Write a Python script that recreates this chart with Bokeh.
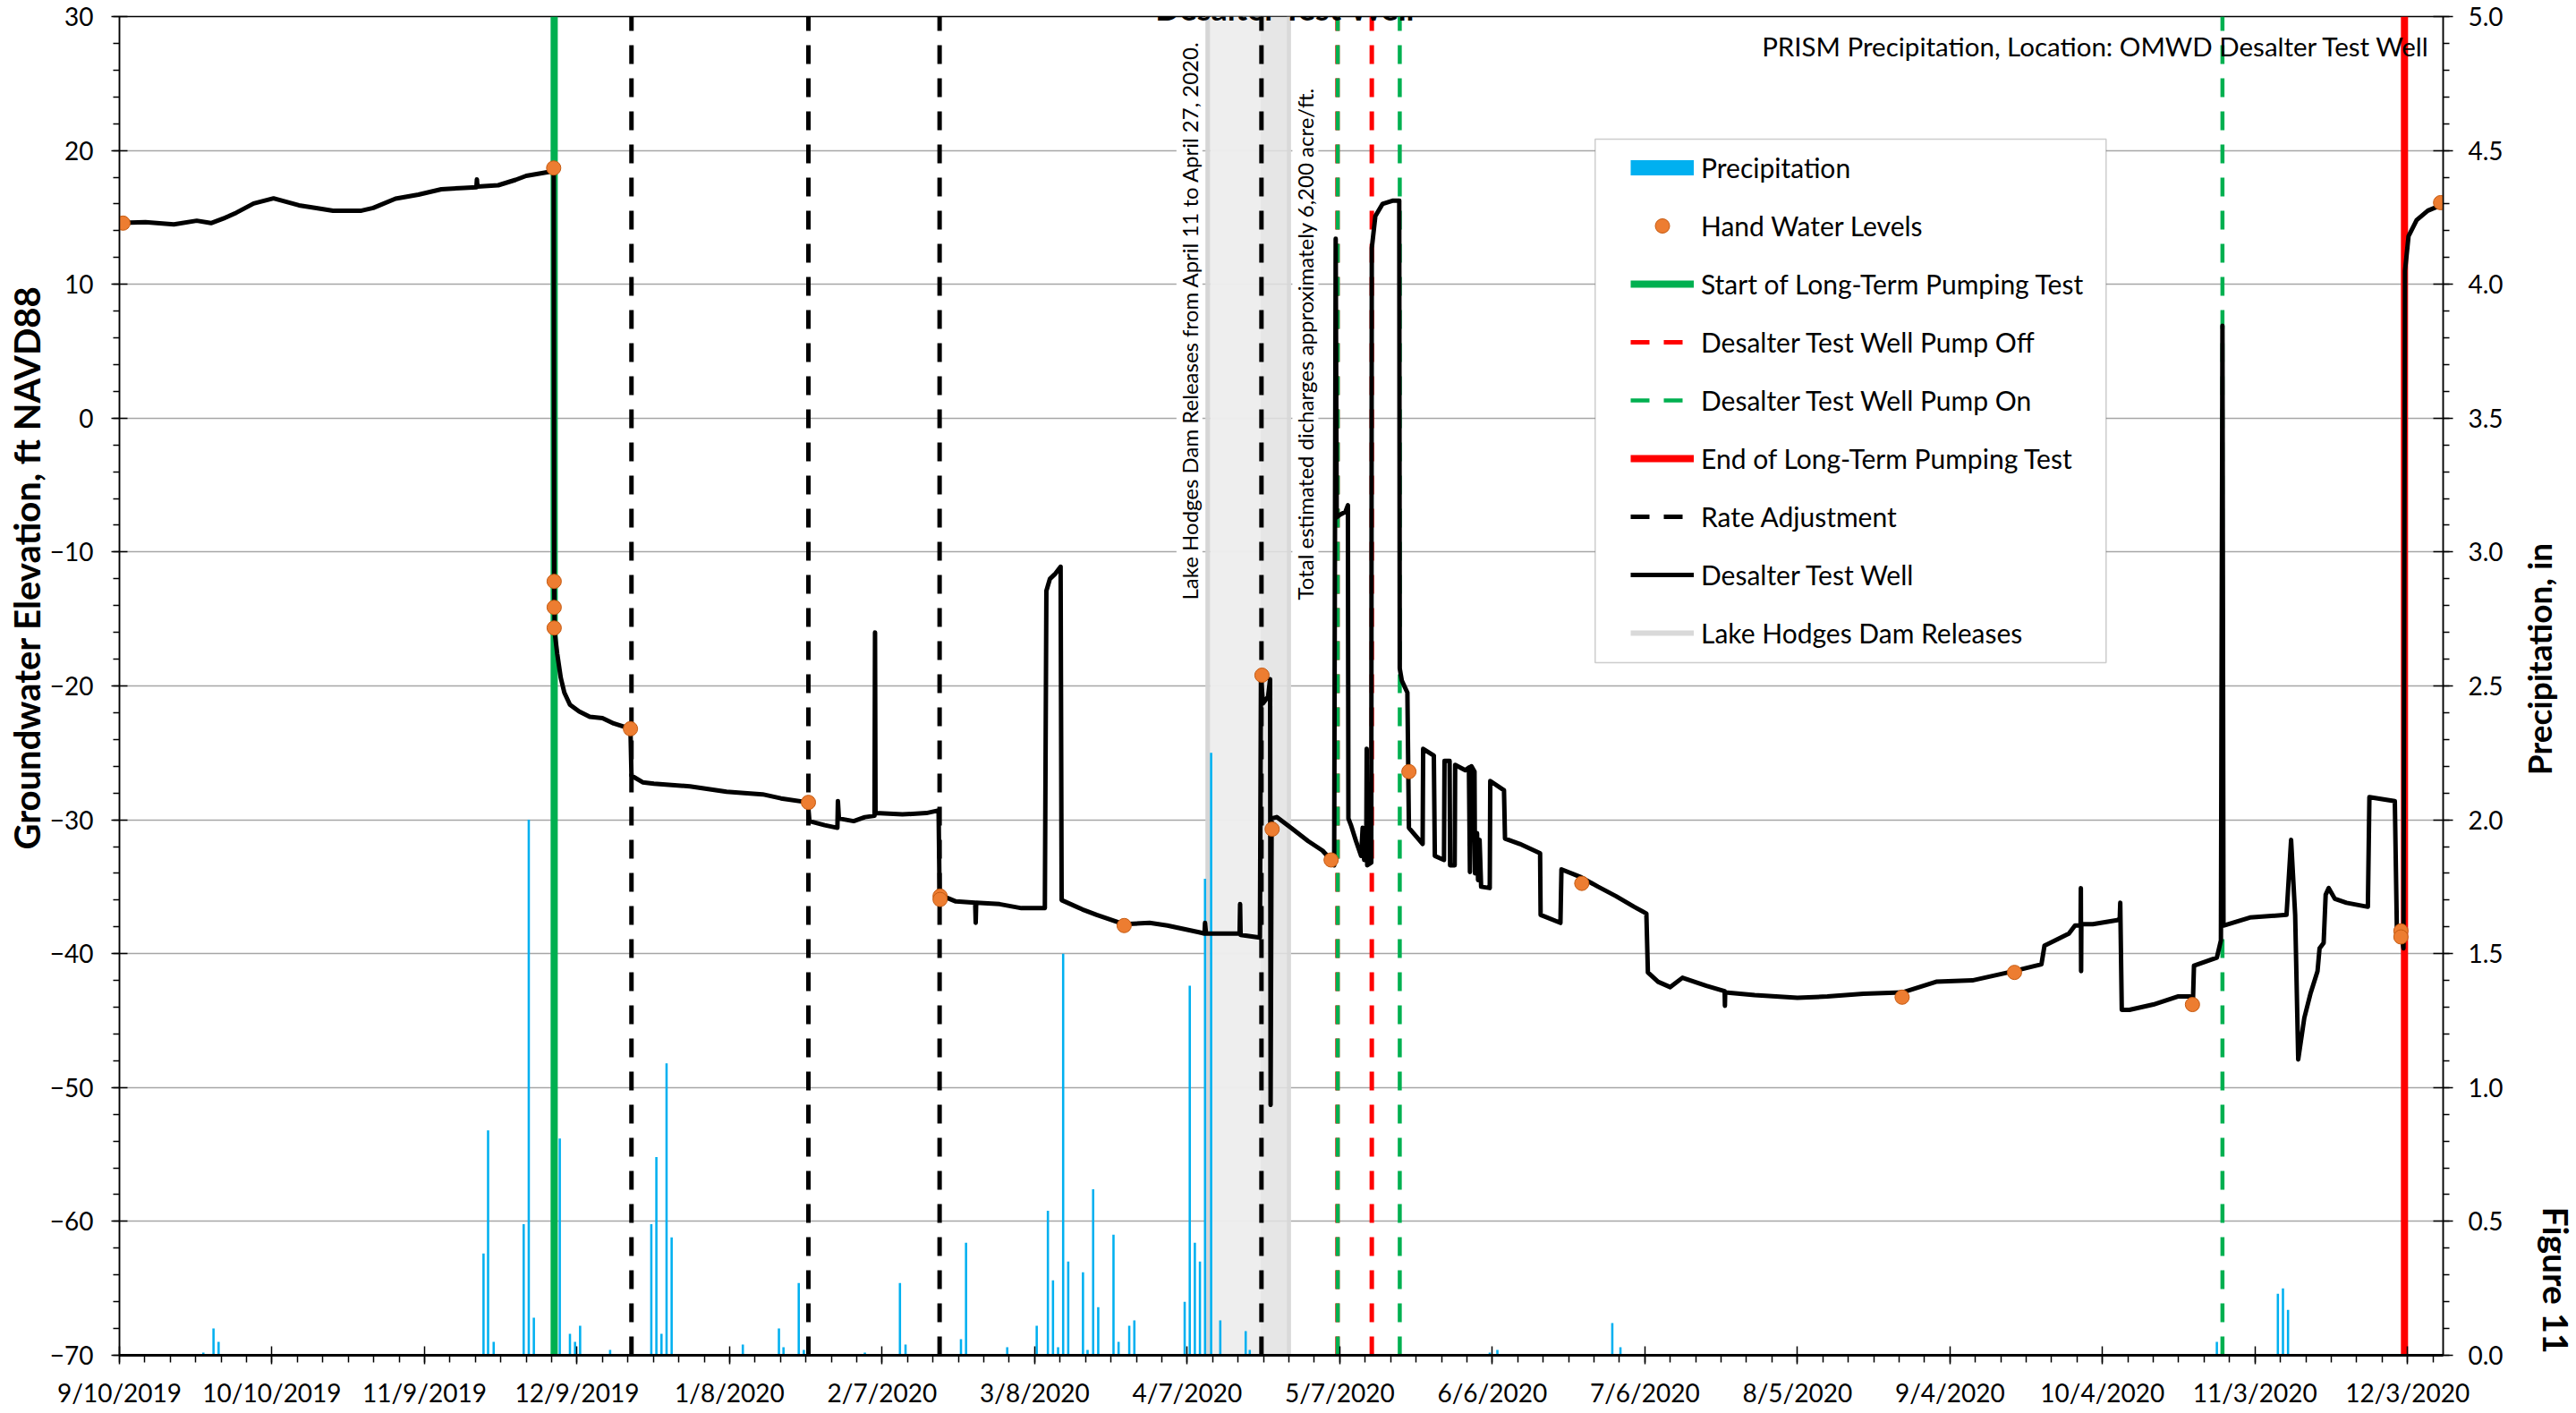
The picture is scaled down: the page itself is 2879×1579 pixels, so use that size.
import math
import numpy as np
import pandas as pd
from bokeh.plotting import figure
from bokeh.layouts import row
from bokeh.models import (Range1d, LinearAxis, FixedTicker, CustomJSTickFormatter,
                          NumeralTickFormatter, Label, Legend, LegendItem, BoxAnnotation)
from bokeh.embed import file_html
from bokeh.resources import INLINE

# ---------------- data ----------------
START = "2019-09-10"          # day 0 of all "days" arrays below
X_END_DAYS = 457              # axis end (12/10/2020)

date_ticks = ["2019-09-10", "2019-10-10", "2019-11-09", "2019-12-09", "2020-01-08",
              "2020-02-07", "2020-03-08", "2020-04-07", "2020-05-07", "2020-06-06",
              "2020-07-06", "2020-08-05", "2020-09-04", "2020-10-04", "2020-11-03",
              "2020-12-03"]
elev_ticks = [-70, -60, -50, -40, -30, -20, -10, 0, 10, 20, 30]
precip_ticks = [0.0, 0.5, 1.0, 1.5, 2.0, 2.5, 3.0, 3.5, 4.0, 4.5, 5.0]

# Desalter Test Well transducer record (days since START, ft NAVD88)
well_days = [0.7, 5.1, 10.7, 15.2, 18.0, 20.8, 23.0, 26.4, 30.3, 35.3, 38.7, 42.0, 47.6, 49.9,
             54.3, 58.8, 63.3, 67.8, 70.2, 70.3, 70.4, 74.5, 77.9, 80.0, 84.6, 85.4,
             85.5, 85.6, 86.1, 86.8, 87.5, 88.6, 90.4, 92.5, 95.0, 97.2, 100.5,
             100.7, 102.9, 105.1, 108.6, 112.2, 115.8, 119.4, 122.9, 126.5, 130.1, 135.4,
             135.7, 138.7, 141.2, 141.3, 141.5, 144.4, 146.6, 148.5, 148.6, 148.7, 154.0,
             158.7, 161.1, 161.3, 164.5, 168.3, 168.4, 168.5, 173.1, 177.4, 182.0,
             182.3, 183.0, 184.1, 185.1, 185.3, 189.4, 192.2, 197.6, 202.6, 206.1, 212.3,
             213.4, 213.5, 213.7, 220.3, 220.4, 220.5, 224.3, 224.5, 224.9, 225.9, 226.3,
             226.4, 226.6, 227.6, 230.4, 233.8, 236.6, 238.3, 238.9, 239.2, 239.4, 240.1,
             241.1, 241.6, 241.7, 242.2, 243.2, 244.2, 244.5, 244.8, 245.2, 245.3, 245.4,
             246.2, 246.3, 247.0, 248.4, 250.5, 251.7, 251.8, 252.2, 253.3, 253.6,
             256.3, 256.4, 258.5, 258.7, 260.5, 260.6, 261.6, 261.7, 262.6, 262.7, 264.7,
             265.4, 265.6, 265.9, 266.5, 266.6, 267.0, 267.2, 267.5, 267.8, 269.5, 269.6,
             272.3, 272.5, 275.4, 279.4, 279.5, 283.4, 283.6, 287.5, 290.8, 294.3, 297.9,
             300.3, 300.6, 302.6, 305.0, 307.4, 312.1, 315.7, 315.75, 315.8, 321.6, 330.0,
             335.9, 343.0, 350.6, 357.3, 364.4, 371.5, 378.0, 378.6, 383.4, 384.6, 385.7,
             385.75, 385.8, 385.85, 388.1, 392.9, 393.4, 393.5, 393.8, 395.3, 400.0, 404.8,
             407.2, 407.8, 408.0, 412.5, 413.3, 413.6, 413.8, 419.0, 426.2, 427.1, 427.9,
             428.5, 429.7, 430.9, 432.3, 432.7, 433.5, 433.9, 434.5, 435.7, 438.0, 442.2,
             442.5, 447.5, 447.9, 448.9, 449.2, 449.5, 450.2, 451.8, 454.0, 456.5]
well_level = [14.6, 14.64, 14.48, 14.75, 14.57, 14.97, 15.35, 16.04, 16.42, 15.9, 15.7, 15.5, 15.5, 15.7,
              16.4, 16.7, 17.1, 17.2, 17.25, 17.84, 17.3, 17.4, 17.8, 18.1, 18.4, 18.6,
              -12.2, -16.0, -17.6, -19.4, -20.5, -21.4, -21.9, -22.3, -22.4, -22.8, -23.2,
              -26.7, -27.2, -27.3, -27.4, -27.5, -27.7, -27.9, -28.0, -28.1, -28.4, -28.7,
              -30.1, -30.4, -30.6, -28.6, -29.9, -30.1, -29.8, -29.7, -16.0, -29.5, -29.6,
              -29.5, -29.3, -35.6, -36.1, -36.2, -37.7, -36.2, -36.3, -36.6, -36.6,
              -12.9, -12.0, -11.6, -11.1, -36.0, -36.7, -37.1, -37.8, -37.7, -37.9, -38.4,
              -38.5, -37.7, -38.5, -38.5, -36.3, -38.6, -38.8, -19.3, -21.3, -20.8, -19.5,
              -51.3, -29.9, -29.8, -30.6, -31.6, -32.3, -33.0, -33.4, 13.4, -7.4, -7.2,
              -7.0, -6.5, -29.9, -30.4, -31.6, -32.7, -30.6, -33.0, -33.0, -24.7, -33.4,
              -33.2, 12.7, 15.1, 16.0, 16.25, 16.25, -18.7, -19.6, -20.5, -30.6,
              -31.8, -24.7, -25.2, -32.7, -33.0, -25.6, -25.6, -33.4, -33.4, -25.9, -26.3,
              -26.1, -33.9, -26.0, -26.4, -34.0, -31.0, -34.5, -31.5, -35.0, -35.1, -27.1,
              -27.8, -31.4, -31.8, -32.5, -37.1, -37.7, -33.7, -34.3, -35.0, -35.7, -36.5,
              -37.0, -41.4, -42.1, -42.5, -41.8, -42.4, -42.8, -43.9, -42.9, -43.1, -43.3,
              -43.2, -43.0, -42.9, -42.1, -42.0, -41.4, -40.8, -39.4, -38.5, -37.9, -37.9,
              -35.1, -41.3, -37.8, -37.8, -37.5, -37.4, -36.2, -44.2, -44.2, -43.8, -43.2,
              -43.2, -43.5, -40.9, -40.3, -39.0, 6.9, -37.9, -37.3, -37.1, -31.5, -37.1,
              -47.9, -44.8, -43.0, -41.3, -39.6, -39.2, -35.6, -35.1, -35.9, -36.2, -36.5,
              -28.3, -28.6, -38.1, -38.8, -39.6, 11.0, 13.6, 14.8, 15.5, 15.9]

# Hand water levels
hand_days = [0.7, 85.4, 85.5, 85.5, 85.5, 100.5, 135.5, 161.4, 161.4, 197.6, 224.7, 226.7,
             238.3, 253.6, 287.6, 350.6, 372.7, 407.7, 448.7, 448.7, 456.5]
hand_level = [14.57, 18.69, -12.19, -14.13, -15.67, -23.2, -28.7, -35.7, -35.95, -37.9, -19.2,
              -30.7, -33.0, -26.4, -34.75, -43.25, -41.4, -43.8, -38.3, -38.75, 16.1]

# PRISM daily precipitation (inches)
precip_days = [16.5, 18.5, 19.5, 71.6, 72.5, 73.6, 79.5, 80.5, 81.5, 86.6, 88.6, 89.6, 90.6, 96.5,
               104.6, 105.6, 106.6, 107.6, 108.6, 122.6, 129.7, 130.6, 133.6, 134.6, 146.6,
               153.5, 154.6, 165.5, 166.5, 174.6, 180.4, 182.6, 183.6, 184.6, 185.6, 186.6,
               189.5, 190.4, 191.5, 192.5, 195.5, 196.5, 198.6, 199.6, 209.5, 210.5, 211.5,
               212.5, 213.5, 214.7, 216.5, 221.5, 222.3, 269.5, 271.0, 293.6, 295.2, 412.5,
               424.5, 425.5, 426.5]
precip_in = [0.01, 0.10, 0.05, 0.38, 0.84, 0.05, 0.49, 2.00, 0.14, 0.81, 0.08, 0.05, 0.11, 0.02,
             0.49, 0.74, 0.08, 1.09, 0.44, 0.04, 0.10, 0.03, 0.27, 0.02, 0.01,
             0.27, 0.04, 0.06, 0.42, 0.03, 0.11, 0.54, 0.28, 0.03, 1.50, 0.35,
             0.31, 0.02, 0.62, 0.18, 0.45, 0.05, 0.11, 0.13, 0.20, 1.38, 0.42,
             0.35, 1.78, 2.25, 0.13, 0.09, 0.02, 0.01, 0.02, 0.12, 0.03, 0.05,
             0.23, 0.25, 0.17]

# Event lines (days since START)
start_test_day = [85.5]
rate_adjust_days = [100.7, 135.5, 161.3, 224.6]
pump_off_days = [239.55, 246.3]
pump_on_days = [239.6, 251.8, 413.6]
end_test_day = [449.4]
release_dates = ["2020-04-11", "2020-04-27"]

# ---------------- helpers ----------------
T0 = pd.Timestamp(START)
DAY_MS = 86400000.0


def ms_day(d):
    return (T0.value / 1e6) + d * DAY_MS


def ms_date(s):
    return pd.Timestamp(s).value / 1e6


def to_ms(days):
    return [ms_day(d) for d in days]


FONT = "Lato"
ELEV = (-70, 30)
PREC = (0, 5)
W_TOTAL, H = 2879, 1579
W_LEFT = 52                     # strip holding the primary-axis title
W_RIGHT_EDGE = 2800             # main plot ends here; strip with secondary title follows
FL, FR, FT, FB = 124, 2730, 18, 1514     # frame edges in page pixels


def side_strip(x0, x1):
    s = figure(width=x1 - x0, height=H, output_backend="svg", toolbar_location=None,
               x_range=Range1d(x0, x1), y_range=Range1d(FB, FT),
               x_axis_location=None, y_axis_location=None,
               min_border_left=0, min_border_right=0, min_border_top=FT,
               min_border_bottom=H - FB,
               background_fill_color="white", border_fill_color="white",
               outline_line_color=None)
    s.xgrid.visible = False
    s.ygrid.visible = False
    return s


p = figure(width=W_RIGHT_EDGE - W_LEFT, height=H, x_axis_type="datetime", output_backend="svg",
           toolbar_location=None,
           x_range=Range1d(ms_day(0), ms_day(X_END_DAYS)), y_range=Range1d(*ELEV),
           min_border_left=FL - W_LEFT, min_border_right=W_RIGHT_EDGE - FR,
           min_border_top=FT, min_border_bottom=H - FB,
           background_fill_color="white", border_fill_color="white",
           outline_line_color="black", outline_line_width=1.5)
p.extra_y_ranges = {"precip": Range1d(*PREC)}

# ---- axes ----
xa = p.xaxis[0]
xa.ticker = FixedTicker(ticks=[ms_date(s) for s in date_ticks],
                        minor_ticks=[ms_day(d) for d in range(0, X_END_DAYS, 5)])
xa.formatter = CustomJSTickFormatter(code="""
const d = new Date(tick);
return (d.getUTCMonth()+1) + "/" + d.getUTCDate() + "/" + d.getUTCFullYear();
""")
xa.axis_line_width = 3
xa.major_tick_in = 10
xa.major_tick_out = 10
xa.minor_tick_in = 0
xa.minor_tick_out = 8
xa.major_tick_line_width = 1.5
xa.minor_tick_line_width = 1.5
xa.major_label_standoff = 14

ya = p.yaxis[0]
ya.ticker = FixedTicker(ticks=elev_ticks, minor_ticks=list(range(ELEV[0], ELEV[1] + 1, 2)))
ya.major_label_standoff = 20
ya.major_tick_in = 9
ya.major_tick_out = 9
ya.minor_tick_in = 0
ya.minor_tick_out = 7

yr = LinearAxis(y_range_name="precip",
                ticker=FixedTicker(ticks=precip_ticks,
                                   minor_ticks=[round(i * 0.1, 1) for i in range(51)]),
                formatter=NumeralTickFormatter(format="0.0"))
yr.major_tick_in = 11
yr.major_tick_out = 11
yr.minor_tick_in = 0
yr.minor_tick_out = 7
yr.major_label_standoff = 17
p.add_layout(yr, "right")

for ax in (xa, ya, yr):
    ax.major_label_text_font = FONT
    ax.major_label_text_font_size = "28px"
    ax.major_label_text_color = "black"
    ax.axis_line_color = "black"
    ax.major_tick_line_color = "black"
    ax.minor_tick_line_color = "black"
for ax in (ya, yr):
    ax.axis_line_width = 1.5
    ax.major_tick_line_width = 1.5
    ax.minor_tick_line_width = 1.5

p.xgrid.visible = False
p.ygrid.grid_line_color = "#A6A6A6"
p.ygrid.grid_line_width = 1.5

# ---- Lake Hodges release band (shaded, slightly darker edges) ----
rs, re_ = ms_date(release_dates[0]), ms_date(release_dates[1])
edge = 0.4 * DAY_MS
band = [(rs - edge, re_ + edge, "#E2E2E2"),
        (rs + 0.6 * DAY_MS, rs + 10.5 * DAY_MS, "#EEEEEE"),
        (rs - edge, rs + edge, "#D2D2D2"),
        (re_ - edge, re_ + edge, "#D6D6D6")]
for l, r, c in band:
    p.quad(left=[l], right=[r], bottom=[ELEV[0]], top=[ELEV[1]],
           fill_color=c, fill_alpha=0.85, line_color=None)

# ---- precipitation bars ----
p.vbar(x=to_ms(precip_days), top=precip_in, bottom=0, width=0.45 * DAY_MS,
       y_range_name="precip", fill_color="#00B0F0", line_color=None)


def vlines(days, **kw):
    xs = to_ms(days)
    return p.segment(x0=xs, y0=[ELEV[0]] * len(xs), x1=xs, y1=[ELEV[1]] * len(xs), **kw)


DASH = "21 16"
r_start = vlines(start_test_day, line_color="#00B050", line_width=8)
r_rate = vlines(rate_adjust_days, line_color="black", line_width=5, line_dash=DASH)
r_off = vlines(pump_off_days, line_color="#FF0000", line_width=5, line_dash=DASH)
r_on = vlines(pump_on_days, line_color="#00B050", line_width=4.5, line_dash=DASH)
r_end = vlines(end_test_day, line_color="#FF0000", line_width=8)

# ---- well record and hand levels ----
r_well = p.line(x=to_ms(well_days), y=well_level, line_color="black", line_width=5,
                line_join="round")
r_hand = p.scatter(x=to_ms(hand_days), y=hand_level, marker="circle", size=16,
                   fill_color="#ED7D31", line_color="#C55A11", line_width=1)

# legend-only swatches (placed before the axis start, so clipped out of view)
off_x = [ms_day(-30), ms_day(-29)]
r_prec_leg = p.line(x=off_x, y=[0, 0], line_color="#00B0F0", line_width=17, line_cap="butt")
r_lake_leg = p.line(x=off_x, y=[0, 0], line_color="#D9D9D9", line_width=6)

# ---- legend with framed white box ----
px_day = (FR - FL) / X_END_DAYS
px_unit = (FB - FT) / (ELEV[1] - ELEV[0])


def yv(px):
    return ELEV[1] - (px - FT) / px_unit


def xd(px):
    return ms_day((px - FL) / px_day)


box = BoxAnnotation(left=xd(1779), right=xd(2352), top=yv(155), bottom=yv(740),
                    fill_color="white", fill_alpha=1.0, line_color="#595959", line_width=1.5)
p.add_layout(box)

legend = Legend(items=[
    LegendItem(label="Precipitation", renderers=[r_prec_leg]),
    LegendItem(label="Hand Water Levels", renderers=[r_hand]),
    LegendItem(label="Start of Long-Term Pumping Test", renderers=[r_start]),
    LegendItem(label="Desalter Test Well Pump Off", renderers=[r_off]),
    LegendItem(label="Desalter Test Well Pump On", renderers=[r_on]),
    LegendItem(label="End of Long-Term Pumping Test", renderers=[r_end]),
    LegendItem(label="Rate Adjustment", renderers=[r_rate]),
    LegendItem(label="Desalter Test Well", renderers=[r_well]),
    LegendItem(label="Lake Hodges Dam Releases", renderers=[r_lake_leg]),
], location=(1813 - 12 - FL, FB - 739), orientation="vertical",
    padding=12, spacing=25, margin=0, label_height=40, glyph_height=40, glyph_width=71,
    label_standoff=8, label_text_font=FONT, label_text_font_size="30px",
    label_text_color="black", background_fill_alpha=0, border_line_alpha=0)
p.add_layout(legend)

# ---- text annotations ----
p.add_layout(Label(x=xd(1432), y=yv(8), text="Desalter Test Well", text_align="center",
                   text_baseline="alphabetic", text_font=FONT, text_font_style="bold",
                   text_font_size="36px", text_color="black"))
p.add_layout(Label(x=xd(2715), y=yv(51), text="PRISM Precipitation, Location: OMWD Desalter Test Well",
                   text_align="right", text_baseline="alphabetic", text_font=FONT,
                   text_font_size="29.5px", text_color="black"))
for cx, txt in [(1324, "Lake Hodges Dam Releases from April 11 to April 27, 2020."),
                (1454, "Total estimated dicharges approximately 6,200 acre/ft.")]:
    p.add_layout(Label(x=xd(cx), y=yv(670), text=txt, angle=math.pi / 2, text_align="left",
                       text_baseline="middle", text_font=FONT, text_font_size="24px",
                       text_color="black", background_fill_color="white",
                       background_fill_alpha=1.0))

# ---- side strips: axis titles and figure number (coordinates = page pixels) ----
qL = side_strip(0, W_LEFT)
qL.add_layout(Label(x=29, y=634, text="Groundwater Elevation, ft NAVD88", angle=math.pi / 2,
                    text_align="center", text_baseline="middle", text_font=FONT,
                    text_font_style="bold", text_font_size="40px", text_color="black"))

qR = side_strip(W_RIGHT_EDGE, W_TOTAL)
qR.add_layout(Label(x=2837, y=736, text="Precipitation, in", angle=math.pi / 2,
                    text_align="center", text_baseline="middle", text_font=FONT,
                    text_font_style="bold", text_font_size="37px", text_color="black"))
qR.add_layout(Label(x=2879, y=1430, text="Figure 11", angle=-math.pi / 2,
                    text_align="center", text_baseline="top", text_font=FONT,
                    text_font_style="bold", text_font_size="39px", text_color="black"))

layout = row(qL, p, qR)
open("out.html", "w").write(file_html(layout, INLINE))
